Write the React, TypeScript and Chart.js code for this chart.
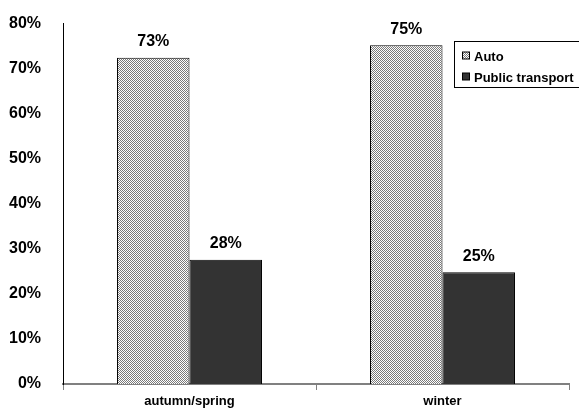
import React, { useEffect, useRef } from "react";
import { Chart, registerables } from "chart.js";

Chart.register(...registerables);

const categories = ["autumn/spring", "winter"];
const autoValues = [72.4, 75.2];
const publicValues = [27.6, 24.8];
const autoLabels = ["73%", "75%"];
const publicLabels = ["28%", "25%"];
const seriesNames = ["Auto", "Public transport"];
const yTicks = [0, 10, 20, 30, 40, 50, 60, 70, 80];

const FONT = "'Liberation Sans', Arial, sans-serif";

function makePattern(): CanvasPattern | string {
  const c = document.createElement("canvas");
  c.width = 2;
  c.height = 2;
  const g = c.getContext("2d");
  if (!g) return "#b0b0b0";
  g.fillStyle = "#ffffff";
  g.fillRect(0, 0, 2, 2);
  g.fillStyle = "#7a7a7a";
  g.fillRect(0, 0, 1, 1);
  g.fillRect(1, 1, 1, 1);
  const p = g.createPattern(c, "repeat");
  return p || "#b0b0b0";
}

export default function App() {
  const ref = useRef<HTMLCanvasElement | null>(null);

  useEffect(() => {
    document.body.style.margin = "0";
    const canvas = ref.current;
    if (!canvas) return;
    const pattern = makePattern();
    const labelSets = [autoLabels, publicLabels];

    const valueLabels = {
      id: "valueLabels",
      afterDatasetsDraw(chart: any) {
        const ctx = chart.ctx;
        ctx.save();
        ctx.font = `bold 16px ${FONT}`;
        ctx.fillStyle = "#000";
        ctx.textAlign = "center";
        ctx.textBaseline = "bottom";
        chart.data.datasets.forEach((_ds: any, di: number) => {
          const meta = chart.getDatasetMeta(di);
          meta.data.forEach((bar: any, i: number) => {
            ctx.fillText(labelSets[di][i], bar.x, bar.y - 8);
          });
        });
        ctx.restore();
      },
    };

    const boxLegend = {
      id: "boxLegend",
      afterDraw(chart: any) {
        const ctx = chart.ctx;
        ctx.save();
        const x0 = 454.5, y0 = 41.5, w = 140, h = 46;
        ctx.fillStyle = "#fff";
        ctx.fillRect(x0, y0, w, h);
        ctx.strokeStyle = "#000";
        ctx.lineWidth = 1;
        ctx.strokeRect(x0, y0, w, h);
        ctx.font = `bold 13px ${FONT}`;
        ctx.textBaseline = "middle";
        ctx.textAlign = "left";
        const fills = [pattern, "#333333"];
        seriesNames.forEach((name, i) => {
          const cy = 56 + i * 21;
          ctx.fillStyle = fills[i] as any;
          ctx.fillRect(462.5, cy - 4, 7, 7);
          ctx.strokeStyle = "#000";
          ctx.strokeRect(462.5, cy - 4, 7, 7);
          ctx.fillStyle = "#000";
          ctx.fillText(name, 474, cy + 1);
        });
        ctx.restore();
      },
    };

    const chart = new Chart(canvas, {
      type: "bar",
      data: {
        labels: categories,
        datasets: [
          {
            label: seriesNames[0],
            data: autoValues,
            backgroundColor: pattern as any,
            borderColor: "#000",
            borderWidth: 1,
            barPercentage: 1,
            categoryPercentage: 0.573,
          },
          {
            label: seriesNames[1],
            data: publicValues,
            backgroundColor: "#333333",
            borderColor: "#000",
            borderWidth: 1,
            barPercentage: 1,
            categoryPercentage: 0.573,
          },
        ],
      },
      options: {
        responsive: false,
        animation: false,
        layout: { padding: { top: 16, right: 10, left: 0, bottom: 0 } },
        plugins: {
          legend: { display: false },
          tooltip: { enabled: false },
        },
        scales: {
          x: {
            grid: {
              display: true,
              drawOnChartArea: false,
              drawTicks: true,
              tickLength: 6,
              color: "#808080",
              offset: true,
            },
            border: { display: true, color: "#808080", width: 2 },
            ticks: {
              color: "#000",
              font: { family: FONT, weight: "bold", size: 13 },
              padding: 4,
            },
            afterFit(scale: any) {
              scale.height = 30;
            },
          },
          y: {
            min: 0,
            max: 80,
            afterBuildTicks(scale: any) {
              scale.ticks = yTicks.map((v) => ({ value: v }));
            },
            grid: { display: false },
            border: { display: true, color: "#000", width: 1 },
            ticks: {
              color: "#000",
              font: { family: FONT, weight: "bold", size: 16 },
              padding: 14,
              callback: (v: any) => `${v}%`,
            },
            afterFit(scale: any) {
              scale.width = 63;
            },
          },
        },
      },
      plugins: [valueLabels, boxLegend],
    });

    return () => chart.destroy();
  }, []);

  return <canvas ref={ref} width={579} height={414} style={{ display: "block" }} />;
}
